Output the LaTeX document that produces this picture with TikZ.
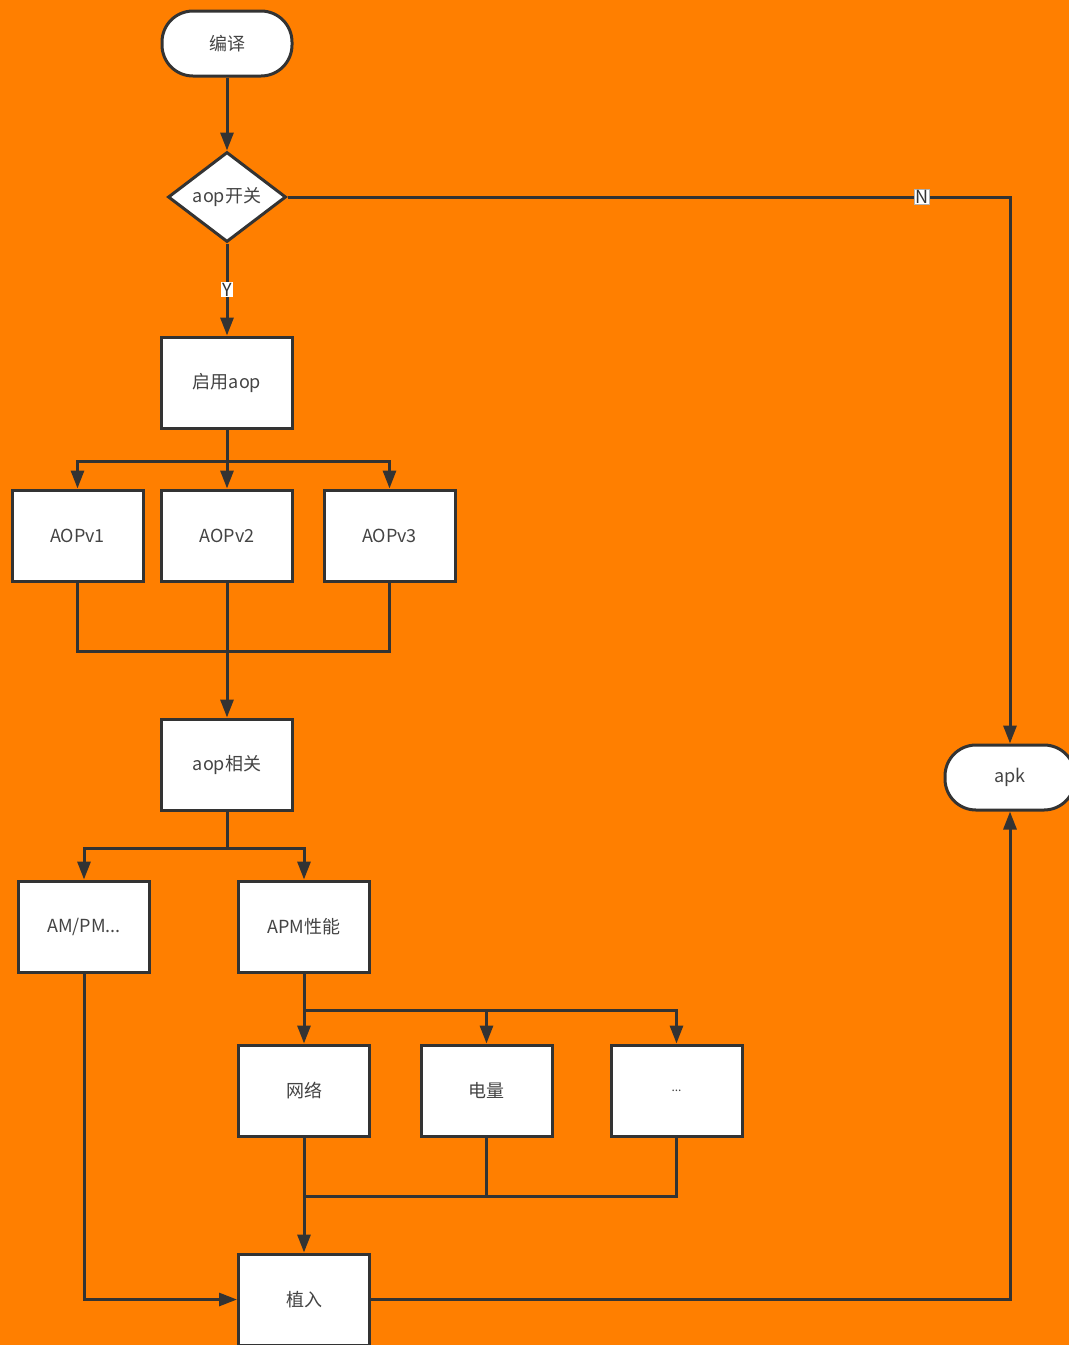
\documentclass[tikz,border=0pt]{standalone}
\usepackage{fontspec}
\setmainfont{Noto Sans CJK SC}
\usetikzlibrary{shapes.geometric,arrows.meta}
\definecolor{bg}{HTML}{FF7F00}
\definecolor{ln}{HTML}{333333}
\definecolor{tx}{HTML}{444444}
\begin{document}
\begin{tikzpicture}[x=1pt,y=-1pt,
  every node/.style={font=\fontsize{18}{21}\selectfont, text=tx},
  box/.style={draw=ln, line width=3pt, fill=white, minimum width=131pt, minimum height=91pt, inner sep=0pt},
  term/.style={box, rounded corners=31pt, minimum height=65pt, minimum width=130pt},
  dec/.style={diamond, draw=ln, line width=3pt, fill=white, minimum width=118pt, minimum height=90pt, inner sep=0pt},
  conn/.style={draw=ln, line width=3pt},
  arr/.style={conn, -{Triangle[length=18pt,width=13pt]}},
  lab/.style={fill=white, inner sep=1pt, text=ln, font=\fontsize{18}{19}\selectfont}
]
\fill[bg] (0,0) rectangle (1069,1345);
\useasboundingbox (0,0) rectangle (1069,1345);

\node[term] (by) at (227,43.5) {编译};
\node[dec] (sw) at (227,197) {aop开关};
\node[box] (qy) at (227,382.5) {启用aop};
\node[box] (v1) at (77.5,535.5) {AOPv1};
\node[box] (v2) at (227,535.5) {AOPv2};
\node[box] (v3) at (389.5,535.5) {AOPv3};
\node[box] (xg) at (227,764.5) {aop相关};
\node[box] (am) at (84,926.5) {AM/PM...};
\node[box] (apm) at (304,926.5) {APM性能};
\node[box] (wl) at (304,1090.5) {网络};
\node[box] (dl) at (486.5,1090.5) {电量};
\node[box] (dd) at (676.5,1090.5) {\raisebox{-2pt}{\fontsize{12}{14}\selectfont ...}};
\node[box] (zr) at (304,1299.5) {植入};
\node[term] (apk) at (1010,777.5) {apk};

\draw[arr] (by) -- (sw);
\draw[arr] (sw.south) -- node[lab] {Y} (qy.north);
\draw[arr] (sw.east) -| node[lab, draw=gray!60, line width=0.6pt, pos=0.439] {N} (apk.north);

\draw[arr] (qy.south) -- (v2.north);
\draw[arr] (qy.south) -- ++(0,32) -| (v1.north);
\draw[arr] (qy.south) -- ++(0,32) -| (v3.north);

\draw[conn] (v1.south) -- ++(0,69) -| (v3.south);
\draw[arr] (v2.south) -- (xg.north);

\draw[arr] (xg.south) -- ++(0,37) -| (am.north);
\draw[arr] (xg.south) -- ++(0,37) -| (apm.north);

\draw[arr] (apm.south) -- (wl.north);
\draw[arr] (apm.south) -- ++(0,37) -| (dl.north);
\draw[arr] (apm.south) -- ++(0,37) -| (dd.north);

\draw[conn] (wl.south) -- ++(0,59) -| (dd.south);
\draw[conn] (dl.south) -- ++(0,59);
\draw[arr] (wl.south) -- (zr.north);

\draw[arr] (am.south) |- (zr.west);
\draw[arr] (zr.east) -| (apk.south);
\end{tikzpicture}
\end{document}
